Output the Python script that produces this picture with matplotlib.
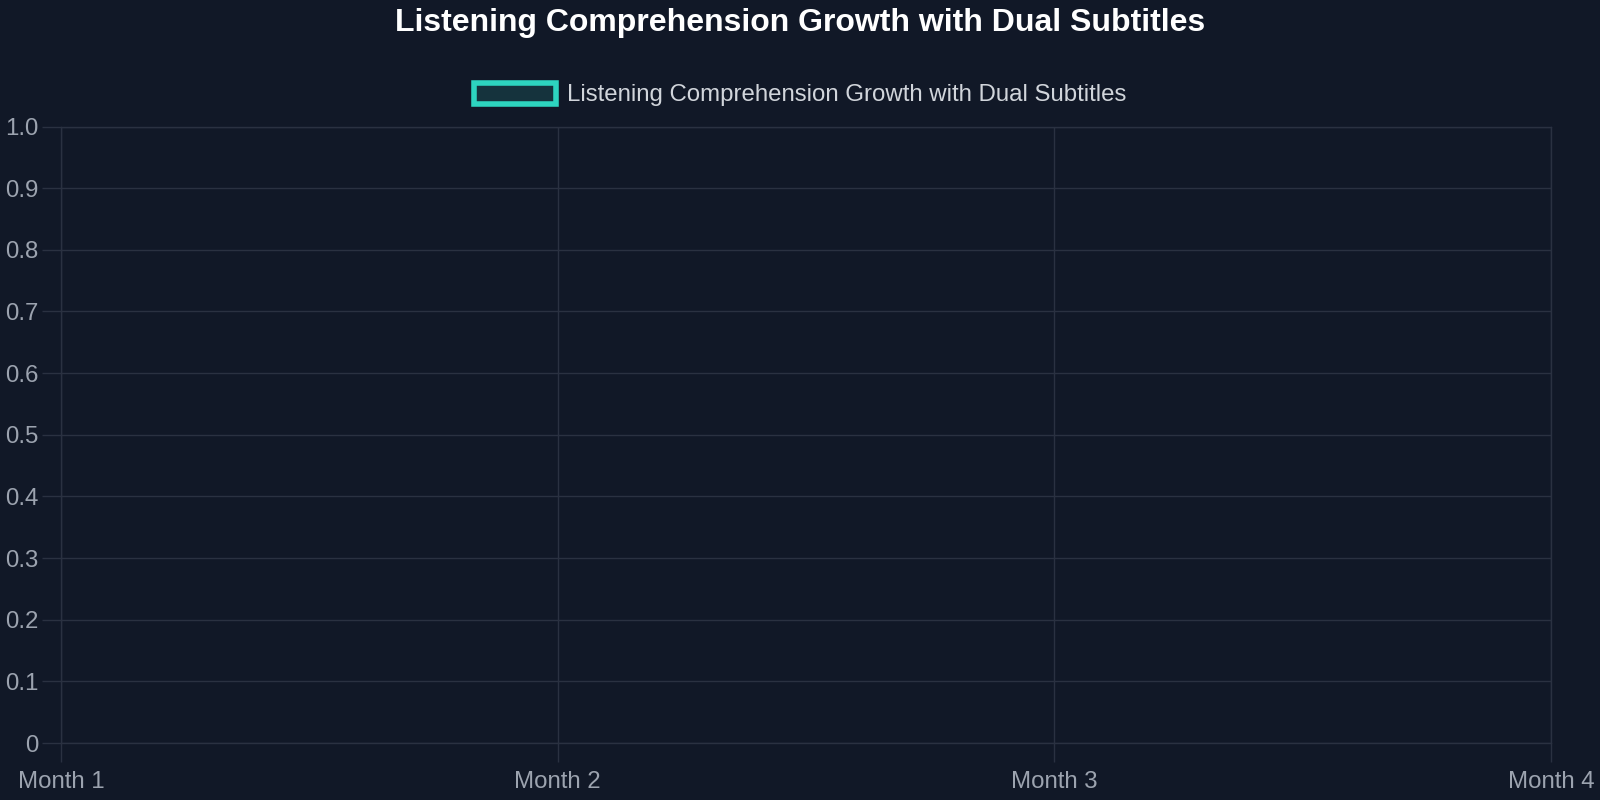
import numpy as np
import matplotlib
matplotlib.use("Agg")
import matplotlib.pyplot as plt
from matplotlib.patches import Patch

categories = ["Month 1", "Month 2", "Month 3", "Month 4"]
values = [np.nan, np.nan, np.nan, np.nan]
series_name = "Listening Comprehension Growth with Dual Subtitles"
title = "Listening Comprehension Growth with Dual Subtitles"
y_ticks = [0, 0.1, 0.2, 0.3, 0.4, 0.5, 0.6, 0.7, 0.8, 0.9, 1.0]
y_labels = ["0", "0.1", "0.2", "0.3", "0.4", "0.5", "0.6", "0.7", "0.8", "0.9", "1.0"]

BG = "#111827"
GRID = "#2a3141"
TICK = "#9ca3af"
LEG = "#d1d5db"
TEAL = "#2dd4bf"

plt.rcParams['font.family'] = ['Liberation Sans', 'DejaVu Sans']

fig = plt.figure(figsize=(16, 8), dpi=100, facecolor=BG)
L, R, T, B = 61, 1551, 126.5, 743
ax = fig.add_axes([L/1600, 1 - B/800, (R-L)/1600, (B-T)/800])
ax.set_facecolor(BG)

x = np.arange(len(categories))
ax.plot(x, values, color=TEAL, linewidth=3)
ax.fill_between(x, values, color=TEAL, alpha=0.2)

ax.set_xlim(0, len(categories) - 1)
ax.set_ylim(0, 1.0)
ax.set_xticks(x)
ax.set_xticklabels(categories)
ax.set_yticks(y_ticks)
ax.set_yticklabels(y_labels)

ax.grid(True, color=GRID, linewidth=1)
ax.set_axisbelow(True)
for s in ax.spines.values():
    s.set_color(GRID)
    s.set_linewidth(1)
ax.tick_params(axis='both', colors=GRID, labelcolor=TICK, labelsize=17.3,
               length=14, width=1)
ax.tick_params(axis='y', pad=2)
ax.tick_params(axis='x', pad=6.5)

fig.text(0.5, 1 - 22.5/800, title, ha='center', va='center', color='white',
         fontsize=23, fontweight='bold')

handle = Patch(facecolor=(45/255, 212/255, 191/255, 0.15), edgecolor=TEAL, linewidth=4)
leg = fig.legend([handle], [series_name], loc='center', bbox_to_anchor=(0.5, 1 - 94.5/800),
                 frameon=False, fontsize=17.3, labelcolor=LEG,
                 handlelength=3.4, handleheight=1.0, handletextpad=0.45)

fig.savefig("out.png", dpi=100, facecolor=BG)
